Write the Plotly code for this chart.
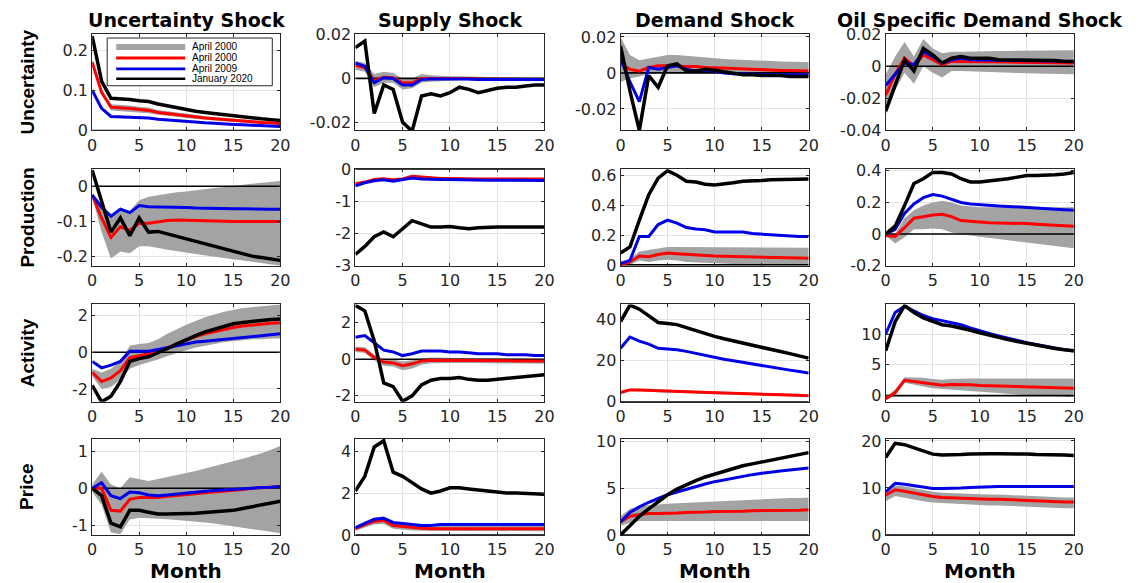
import plotly.graph_objects as go

# ---------------- data ----------------
months = list(range(21))

shock_titles = ["Uncertainty Shock", "Supply Shock", "Demand Shock", "Oil Specific Demand Shock"]
var_labels = ["Uncertainty", "Production", "Activity", "Price"]
legend_labels = ["April 2000", "April 2000", "April 2009", "January 2020"]
xtick_vals = [0, 5, 10, 15, 20]

# Row 1: Uncertainty
uu_blk = [0.235,0.123,0.080,0.079,0.077,0.074,0.072,0.066,0.061,0.056,0.052,0.048,0.045,0.042,0.039,0.036,0.034,0.031,0.029,0.027,0.025]
uu_red = [0.170,0.095,0.058,0.057,0.055,0.052,0.050,0.045,0.042,0.039,0.036,0.033,0.031,0.029,0.027,0.025,0.023,0.021,0.020,0.019,0.017]
uu_blu = [0.100,0.055,0.035,0.034,0.033,0.032,0.031,0.028,0.026,0.024,0.022,0.020,0.019,0.018,0.016,0.015,0.014,0.013,0.012,0.011,0.010]
uu_hi = [0.175,0.100,0.065,0.064,0.062,0.059,0.057,0.051,0.048,0.044,0.041,0.038,0.035,0.033,0.031,0.029,0.027,0.025,0.023,0.022,0.020]
uu_lo = [0.165,0.090,0.050,0.049,0.047,0.045,0.043,0.039,0.036,0.034,0.031,0.028,0.027,0.025,0.023,0.021,0.019,0.018,0.017,0.016,0.014]

su_blk = [0.014,0.017,-0.016,-0.003,-0.005,-0.020,-0.024,-0.008,-0.007,-0.008,-0.0065,-0.004,-0.005,-0.0065,-0.0055,-0.0045,-0.004,-0.004,-0.0035,-0.003,-0.003]
su_red = [0.006,0.005,-0.001,0.0005,0.0003,-0.002,-0.002,0.0,0.0,0.0,0.0,0.0002,0.0,-0.0003,-0.0003,-0.0004,-0.0004,-0.0004,-0.0005,-0.0005,-0.0005]
su_blu = [0.007,0.0055,-0.002,0.0003,0.0,-0.003,-0.003,-0.0005,-0.0003,-0.0003,-0.0002,0.0,-0.0003,-0.0005,-0.0005,-0.0005,-0.0005,-0.0005,-0.0005,-0.0005,-0.0005]
su_hi = [0.008,0.007,0.002,0.003,0.0025,0.0,0.0,0.002,0.0015,0.0012,0.001,0.001,0.0008,0.0006,0.0005,0.0005,0.0004,0.0004,0.0003,0.0003,0.0003]
su_lo = [0.004,0.003,-0.004,-0.002,-0.002,-0.005,-0.0045,-0.002,-0.0015,-0.0012,-0.001,-0.0008,-0.001,-0.0012,-0.0012,-0.0012,-0.0012,-0.0012,-0.0013,-0.0013,-0.0013]

du_blk = [0.015,-0.010,-0.032,-0.0015,-0.008,0.004,0.005,0.001,0.001,0.002,0.0015,0.0005,-0.0005,-0.001,-0.001,-0.0015,-0.0015,-0.0015,-0.002,-0.002,-0.002]
du_red = [0.005,0.002,0.001,0.003,0.004,0.004,0.004,0.0035,0.0035,0.003,0.003,0.0028,0.0025,0.0022,0.002,0.0018,0.0015,0.0014,0.0013,0.0012,0.001]
du_blu = [0.008,-0.005,-0.016,0.003,0.002,0.003,0.004,0.002,0.001,0.0015,0.001,0.0,-0.0005,-0.0005,-0.0008,-0.001,-0.001,-0.001,-0.001,-0.001,-0.001]
du_hi = [0.020,0.010,0.007,0.008,0.009,0.010,0.010,0.0095,0.009,0.0085,0.008,0.0078,0.0075,0.0072,0.007,0.0068,0.0066,0.0064,0.0062,0.006,0.006]
du_lo = [-0.005,-0.003,-0.002,-0.0005,0.0,0.0,0.0,0.0,0.0,-0.0002,-0.0003,-0.0004,-0.0005,-0.0006,-0.0007,-0.0008,-0.0008,-0.0009,-0.001,-0.001,-0.001]

ou_blk = [-0.028,-0.012,0.004,-0.003,0.011,0.007,0.002,0.005,0.006,0.005,0.005,0.005,0.004,0.004,0.004,0.004,0.004,0.0035,0.0035,0.003,0.003]
ou_red = [-0.018,-0.005,0.005,0.0,0.007,0.004,0.001,0.003,0.003,0.003,0.003,0.003,0.0028,0.0026,0.0025,0.0024,0.0023,0.0022,0.0021,0.002,0.002]
ou_blu = [-0.012,-0.005,0.002,0.001,0.009,0.006,0.002,0.004,0.005,0.004,0.004,0.004,0.0038,0.0036,0.0035,0.0034,0.0033,0.0032,0.0031,0.003,0.003]
ou_hi = [-0.005,0.006,0.015,0.006,0.017,0.011,0.008,0.009,0.009,0.009,0.009,0.0092,0.0094,0.0095,0.0096,0.0097,0.0098,0.0099,0.01,0.01,0.01]
ou_lo = [-0.030,-0.015,-0.004,-0.011,0.0,-0.004,-0.007,-0.003,-0.003,-0.003,-0.003,-0.0033,-0.0036,-0.004,-0.0042,-0.0044,-0.0046,-0.0048,-0.005,-0.005,-0.005]

# Row 2: Production
up_blk = [0.045,-0.04,-0.13,-0.09,-0.14,-0.09,-0.13,-0.128,-0.135,-0.143,-0.15,-0.158,-0.165,-0.17,-0.178,-0.186,-0.192,-0.198,-0.202,-0.206,-0.21]
up_red = [-0.025,-0.09,-0.145,-0.115,-0.125,-0.105,-0.105,-0.1,-0.097,-0.096,-0.097,-0.098,-0.099,-0.1,-0.1,-0.1,-0.1,-0.1,-0.1,-0.1,-0.1]
up_blu = [-0.025,-0.06,-0.085,-0.065,-0.075,-0.055,-0.058,-0.058,-0.059,-0.06,-0.06,-0.062,-0.063,-0.063,-0.064,-0.064,-0.064,-0.065,-0.065,-0.065,-0.065]
up_hi = [-0.02,-0.05,-0.09,-0.06,-0.07,-0.04,-0.03,-0.025,-0.02,-0.017,-0.015,-0.011,-0.008,-0.005,-0.002,0.0,0.004,0.007,0.01,0.012,0.015]
up_lo = [-0.03,-0.13,-0.205,-0.185,-0.19,-0.17,-0.17,-0.175,-0.18,-0.185,-0.19,-0.193,-0.196,-0.2,-0.203,-0.207,-0.21,-0.214,-0.218,-0.221,-0.225]

sp_blk = [-2.65,-2.4,-2.1,-1.95,-2.1,-1.85,-1.6,-1.7,-1.8,-1.8,-1.78,-1.82,-1.85,-1.82,-1.8,-1.8,-1.8,-1.8,-1.8,-1.8,-1.8]
sp_red = [-0.45,-0.4,-0.32,-0.3,-0.33,-0.3,-0.22,-0.25,-0.28,-0.29,-0.29,-0.3,-0.3,-0.3,-0.3,-0.3,-0.3,-0.3,-0.3,-0.3,-0.3]
sp_blu = [-0.52,-0.42,-0.36,-0.33,-0.37,-0.33,-0.27,-0.3,-0.32,-0.32,-0.32,-0.33,-0.34,-0.34,-0.34,-0.34,-0.34,-0.35,-0.35,-0.35,-0.35]
sp_hi = [-0.42,-0.37,-0.29,-0.27,-0.3,-0.27,-0.19,-0.22,-0.25,-0.26,-0.26,-0.27,-0.27,-0.27,-0.27,-0.27,-0.27,-0.27,-0.27,-0.27,-0.27]
sp_lo = [-0.5,-0.45,-0.37,-0.35,-0.38,-0.35,-0.27,-0.3,-0.33,-0.34,-0.34,-0.35,-0.35,-0.35,-0.35,-0.35,-0.35,-0.35,-0.35,-0.35,-0.35]

dp_blk = [0.08,0.12,0.3,0.47,0.58,0.63,0.6,0.56,0.555,0.54,0.535,0.54,0.55,0.56,0.56,0.565,0.57,0.57,0.57,0.57,0.575]
dp_red = [0.0,0.02,0.06,0.055,0.07,0.08,0.075,0.07,0.065,0.06,0.06,0.058,0.056,0.055,0.054,0.053,0.052,0.05,0.048,0.046,0.045]
dp_blu = [0.01,0.03,0.19,0.19,0.27,0.30,0.28,0.25,0.24,0.235,0.22,0.22,0.22,0.22,0.21,0.205,0.2,0.195,0.19,0.19,0.19]
dp_hi = [0.01,0.04,0.09,0.1,0.11,0.12,0.12,0.12,0.115,0.115,0.115,0.115,0.115,0.115,0.115,0.115,0.115,0.115,0.115,0.115,0.115]
dp_lo = [0.0,0.0,0.03,0.02,0.03,0.035,0.03,0.02,0.015,0.012,0.01,0.008,0.006,0.005,0.004,0.003,0.002,0.001,0.0,0.0,0.0]

op_blk = [0.0,0.05,0.18,0.32,0.35,0.39,0.39,0.38,0.35,0.33,0.33,0.335,0.34,0.35,0.36,0.37,0.37,0.37,0.375,0.38,0.39]
op_red = [-0.01,-0.015,0.04,0.1,0.11,0.12,0.125,0.11,0.085,0.08,0.075,0.072,0.07,0.07,0.07,0.066,0.062,0.058,0.055,0.052,0.05]
op_blu = [0.0,0.03,0.13,0.19,0.23,0.25,0.24,0.22,0.2,0.19,0.185,0.18,0.178,0.175,0.172,0.17,0.165,0.16,0.157,0.153,0.15]
op_hi = [0.0,0.0,0.1,0.15,0.18,0.2,0.21,0.2,0.18,0.175,0.17,0.17,0.17,0.17,0.17,0.17,0.17,0.17,0.17,0.17,0.17]
op_lo = [-0.01,-0.06,-0.02,0.03,0.03,0.035,0.03,0.01,0.0,-0.01,-0.02,-0.027,-0.034,-0.041,-0.048,-0.055,-0.062,-0.069,-0.076,-0.083,-0.09]

# Row 3: Activity
ua_blk = [-1.8,-2.7,-2.4,-1.6,-0.5,-0.35,-0.25,-0.05,0.2,0.45,0.7,0.9,1.1,1.25,1.4,1.55,1.62,1.68,1.74,1.78,1.8]
ua_red = [-1.1,-1.6,-1.4,-1.0,-0.3,-0.2,-0.1,0.05,0.25,0.45,0.65,0.85,1.0,1.12,1.24,1.34,1.42,1.48,1.53,1.57,1.6]
ua_blu = [-0.5,-0.85,-0.7,-0.5,0.05,0.05,0.05,0.15,0.25,0.35,0.45,0.55,0.6,0.65,0.7,0.75,0.8,0.85,0.9,0.95,1.0]
ua_hi = [-0.9,-1.1,-0.9,-0.5,0.35,0.45,0.5,0.7,1.0,1.25,1.5,1.7,1.9,2.05,2.2,2.3,2.4,2.45,2.5,2.55,2.6]
ua_lo = [-1.3,-2.0,-1.9,-1.5,-0.9,-0.7,-0.55,-0.4,-0.2,-0.05,0.1,0.25,0.35,0.45,0.55,0.6,0.65,0.7,0.7,0.75,0.75]

sa_blk = [2.95,2.65,1.0,-1.3,-1.5,-2.3,-2.0,-1.4,-1.15,-1.05,-1.05,-1.0,-1.1,-1.15,-1.15,-1.1,-1.05,-1.0,-0.95,-0.9,-0.85]
sa_red = [0.55,0.5,0.1,-0.15,-0.2,-0.35,-0.25,-0.1,-0.05,-0.05,-0.05,-0.05,-0.06,-0.07,-0.08,-0.08,-0.09,-0.09,-0.1,-0.1,-0.1]
sa_blu = [1.2,1.3,0.9,0.5,0.4,0.2,0.3,0.45,0.45,0.45,0.4,0.4,0.35,0.3,0.3,0.3,0.25,0.25,0.25,0.2,0.2]
sa_hi = [0.7,0.65,0.25,0.0,-0.02,-0.12,-0.05,0.05,0.1,0.1,0.1,0.08,0.07,0.06,0.05,0.05,0.04,0.04,0.03,0.03,0.03]
sa_lo = [0.4,0.35,-0.05,-0.35,-0.4,-0.6,-0.5,-0.3,-0.22,-0.2,-0.2,-0.2,-0.2,-0.21,-0.22,-0.22,-0.23,-0.23,-0.24,-0.24,-0.25]

da_blk = [39,47,45,42,38.5,38,37.5,36,34.5,33,31.8,30.6,29.5,28.4,27.4,26.4,25.4,24.4,23.4,22.4,21.2]
da_red = [4.5,5.8,5.8,5.6,5.3,5.1,5.0,4.9,4.7,4.6,4.4,4.3,4.1,4.0,3.8,3.7,3.5,3.4,3.3,3.1,3.0]
da_blu = [26,31.5,29.5,28,26,25.8,25.3,24.5,23.5,22.5,21.5,20.7,19.9,19.1,18.3,17.5,16.8,16.1,15.4,14.7,14]
da_hi = [5.1,6.4,6.4,6.2,5.9,5.7,5.6,5.5,5.3,5.2,5.0,4.9,4.7,4.6,4.4,4.3,4.1,4.0,3.9,3.7,3.6]
da_lo = [3.9,5.2,5.2,5.0,4.7,4.5,4.4,4.3,4.1,4.0,3.8,3.7,3.5,3.4,3.2,3.1,2.9,2.8,2.7,2.5,2.4]

oa_blk = [7.3,12.0,14.6,13.5,12.6,12.0,11.5,11.3,11.0,10.6,10.2,9.8,9.45,9.1,8.8,8.5,8.2,7.9,7.65,7.45,7.3]
oa_red = [-0.5,0.5,2.5,2.3,2.2,1.9,1.7,1.8,1.8,1.75,1.65,1.6,1.55,1.5,1.45,1.4,1.35,1.3,1.25,1.2,1.2]
oa_blu = [10.0,13.5,14.5,13.8,13.0,12.5,12.2,11.8,11.5,11.0,10.5,10.1,9.7,9.3,8.9,8.6,8.3,8.0,7.7,7.45,7.25]
oa_hi = [-0.3,1.0,3.0,3.0,2.9,2.7,2.6,2.7,2.8,2.8,2.8,2.8,2.8,2.8,2.8,2.8,2.8,2.8,2.8,2.8,2.8]
oa_lo = [-0.7,0.0,2.1,1.8,1.5,1.2,1.0,0.9,0.8,0.7,0.6,0.5,0.4,0.3,0.2,0.1,0.0,-0.05,-0.1,-0.15,-0.2]

# Row 4: Price
ur_blk = [0.0,-0.2,-0.95,-1.05,-0.6,-0.6,-0.65,-0.7,-0.7,-0.7,-0.7,-0.68,-0.66,-0.64,-0.62,-0.6,-0.55,-0.5,-0.45,-0.4,-0.35]
ur_red = [0.0,0.0,-0.6,-0.62,-0.3,-0.25,-0.25,-0.25,-0.22,-0.2,-0.18,-0.15,-0.12,-0.1,-0.08,-0.05,-0.03,0.0,0.02,0.04,0.05]
ur_blu = [0.0,0.15,-0.2,-0.28,-0.1,-0.12,-0.18,-0.2,-0.18,-0.15,-0.12,-0.1,-0.08,-0.06,-0.04,-0.02,0.0,0.01,0.02,0.03,0.05]
ur_hi = [0.1,0.45,0.1,0.0,0.3,0.25,0.2,0.25,0.3,0.35,0.4,0.47,0.54,0.6,0.67,0.74,0.8,0.88,0.95,1.05,1.15]
ur_lo = [-0.1,-0.45,-1.2,-1.25,-0.85,-0.8,-0.8,-0.82,-0.84,-0.86,-0.88,-0.9,-0.93,-0.96,-1.0,-1.03,-1.06,-1.1,-1.14,-1.18,-1.22]

sr_blk = [2.1,2.8,4.2,4.5,3.0,2.8,2.5,2.2,2.0,2.1,2.25,2.25,2.2,2.15,2.1,2.05,2.0,2.0,1.98,1.96,1.95]
sr_red = [0.3,0.5,0.65,0.7,0.45,0.4,0.35,0.32,0.3,0.3,0.3,0.3,0.3,0.3,0.3,0.3,0.3,0.3,0.3,0.3,0.3]
sr_blu = [0.35,0.55,0.75,0.8,0.6,0.55,0.5,0.45,0.45,0.5,0.5,0.5,0.5,0.5,0.5,0.5,0.5,0.5,0.5,0.5,0.5]
sr_hi = [0.42,0.65,0.82,0.88,0.62,0.56,0.5,0.46,0.44,0.44,0.44,0.44,0.44,0.44,0.44,0.44,0.44,0.44,0.44,0.44,0.44]
sr_lo = [0.2,0.36,0.5,0.52,0.3,0.26,0.22,0.2,0.18,0.18,0.18,0.18,0.18,0.18,0.18,0.18,0.18,0.18,0.18,0.18,0.18]

dr_blk = [0.0,1.0,2.0,2.8,3.6,4.3,4.9,5.4,5.8,6.2,6.5,6.8,7.1,7.4,7.6,7.8,8.0,8.2,8.4,8.6,8.8]
dr_red = [1.4,2.0,2.2,2.3,2.3,2.3,2.35,2.4,2.4,2.45,2.5,2.5,2.55,2.55,2.6,2.6,2.6,2.65,2.65,2.65,2.7]
dr_blu = [1.4,2.4,3.0,3.5,3.9,4.3,4.6,4.9,5.2,5.45,5.7,5.9,6.1,6.3,6.45,6.6,6.75,6.85,6.95,7.05,7.15]
dr_hi = [2.0,2.8,3.1,3.2,3.3,3.35,3.4,3.45,3.5,3.55,3.6,3.65,3.7,3.75,3.8,3.85,3.9,3.9,3.95,3.95,4.0]
dr_lo = [1.0,1.3,1.5,1.5,1.5,1.5,1.5,1.5,1.5,1.5,1.5,1.5,1.5,1.5,1.5,1.5,1.5,1.5,1.5,1.5,1.5]

or_blk = [16.5,19.5,19.2,18.5,17.8,17.2,17.0,17.0,17.1,17.2,17.3,17.3,17.3,17.3,17.2,17.2,17.1,17.1,17.0,17.0,16.9]
or_red = [8.5,9.6,9.3,8.9,8.5,8.2,8.0,7.9,7.8,7.7,7.7,7.6,7.6,7.5,7.5,7.4,7.3,7.2,7.1,7.0,7.0]
or_blu = [9.2,11.0,10.8,10.5,10.1,9.9,9.9,9.9,10.0,10.1,10.2,10.3,10.3,10.3,10.3,10.3,10.3,10.3,10.3,10.3,10.3]
or_hi = [9.5,10.6,10.3,9.9,9.5,9.2,9.0,8.9,8.8,8.7,8.7,8.6,8.6,8.5,8.5,8.4,8.3,8.2,8.1,8.0,8.0]
or_lo = [7.2,8.3,8.0,7.6,7.2,6.9,6.7,6.6,6.5,6.4,6.4,6.3,6.3,6.2,6.2,6.1,6.0,5.9,5.8,5.7,5.7]

# y ranges and ticks per panel (row-major)
y_ranges = [
    [0, 0.24], [-0.0237, 0.0202], [-0.032, 0.0216], [-0.04, 0.02],
    [-0.225, 0.048], [-3, 0], [-0.005, 0.64], [-0.2, 0.41],
    [-2.7, 2.6], [-2.33, 3.0], [0, 47.3], [-1, 14.8],
    [-1.27, 1.35], [0, 4.6], [0, 10.3], [0, 20.5],
]
y_ticks = [
    [0, 0.1, 0.2], [-0.02, 0, 0.02], [-0.02, 0, 0.02], [-0.04, -0.02, 0, 0.02],
    [-0.2, -0.1, 0], [-3, -2, -1, 0], [0, 0.2, 0.4, 0.6], [-0.2, 0, 0.2, 0.4],
    [-2, 0, 2], [-2, 0, 2], [0, 20, 40], [0, 5, 10],
    [-1, 0, 1], [0, 2, 4], [0, 5, 10], [0, 10, 20],
]

panels = [
    (uu_lo, uu_hi, uu_red, uu_blu, uu_blk), (su_lo, su_hi, su_red, su_blu, su_blk),
    (du_lo, du_hi, du_red, du_blu, du_blk), (ou_lo, ou_hi, ou_red, ou_blu, ou_blk),
    (up_lo, up_hi, up_red, up_blu, up_blk), (sp_lo, sp_hi, sp_red, sp_blu, sp_blk),
    (dp_lo, dp_hi, dp_red, dp_blu, dp_blk), (op_lo, op_hi, op_red, op_blu, op_blk),
    (ua_lo, ua_hi, ua_red, ua_blu, ua_blk), (sa_lo, sa_hi, sa_red, sa_blu, sa_blk),
    (da_lo, da_hi, da_red, da_blu, da_blk), (oa_lo, oa_hi, oa_red, oa_blu, oa_blk),
    (ur_lo, ur_hi, ur_red, ur_blu, ur_blk), (sr_lo, sr_hi, sr_red, sr_blu, sr_blk),
    (dr_lo, dr_hi, dr_red, dr_blu, dr_blk), (or_lo, or_hi, or_red, or_blu, or_blk),
]

# ---------------- layout geometry ----------------
# Target positions are given in picture pixels; the captured page shows the figure
# offset by 8px and slightly scaled, so positions are mapped back accordingly.
W, H = 1145, 583
OFF = 8
SX, SY = 1145 / 1161, 583 / 599
col_px = [(95, 283), (358, 547), (623, 811), (888, 1076)]
row_px = [(33, 130), (169, 266), (305, 403), (440, 537)]

GRAY = "#a3a3a3"
RED = "#ff0000"
BLUE = "#0000e6"
BLACK = "#000000"
AX = "#262626"


def px_x(p):
    return (p / SX - OFF) / W


def px_y(p):
    return 1 - (p / SY - OFF) / H


def fmt(v):
    return f"{v:g}"


fig = go.Figure()
layout = {}

for r in range(4):
    for c in range(4):
        n = r * 4 + c + 1
        xa = "x" if n == 1 else f"x{n}"
        ya = "y" if n == 1 else f"y{n}"
        lo, hi, red, blu, blk = panels[n - 1]
        fig.add_trace(go.Scatter(
            x=months + months[::-1], y=hi + lo[::-1], fill="toself",
            fillcolor=GRAY, line=dict(width=0, color=GRAY), mode="lines",
            xaxis=xa, yaxis=ya, showlegend=False, hoverinfo="skip"))
        fig.add_trace(go.Scatter(
            x=[months[0], months[-1]], y=[0, 0], mode="lines",
            line=dict(color=BLACK, width=1.6), xaxis=xa, yaxis=ya,
            showlegend=False, hoverinfo="skip"))
        for ys, col, w in ((red, RED, 3.0), (blu, BLUE, 3.0), (blk, BLACK, 3.5)):
            fig.add_trace(go.Scatter(
                x=months, y=ys, mode="lines", line=dict(color=col, width=w),
                xaxis=xa, yaxis=ya, showlegend=False))
        x0, x1 = col_px[c]
        y0, y1 = row_px[r]
        common = dict(showline=True, linecolor=AX, linewidth=1, mirror="ticks",
                      ticks="inside", ticklen=3, tickcolor=AX,
                      showgrid=True, gridcolor="#e3e3e3", gridwidth=1,
                      zeroline=False, tickfont=dict(family="DejaVu Sans", size=16, color=AX))
        layout["xaxis" if n == 1 else f"xaxis{n}"] = dict(
            domain=[px_x(x0), px_x(x1)], anchor=ya, range=[0, 20],
            tickvals=xtick_vals, ticktext=[fmt(v) for v in xtick_vals], **common)
        layout["yaxis" if n == 1 else f"yaxis{n}"] = dict(
            domain=[px_y(y1), px_y(y0)], anchor=xa, range=y_ranges[n - 1],
            tickvals=y_ticks[n - 1], ticktext=[fmt(v) for v in y_ticks[n - 1]], **common)

annotations = []
for c, t in enumerate(shock_titles):
    cx = (col_px[c][0] + col_px[c][1]) / 2
    annotations.append(dict(text=f"<b>{t}</b>", x=px_x(cx), y=px_y(19), xref="paper", yref="paper",
                            xanchor="center", yanchor="middle", showarrow=False,
                            font=dict(family="DejaVu Sans", size=19, color=BLACK)))
    annotations.append(dict(text="<b>Month</b>", x=px_x(cx), y=px_y(573), xref="paper", yref="paper",
                            xanchor="center", yanchor="middle", showarrow=False,
                            font=dict(family="DejaVu Sans", size=20, color=BLACK)))
for r, t in enumerate(var_labels):
    cy = (row_px[r][0] + row_px[r][1]) / 2
    annotations.append(dict(text=f"<b>{t}</b>", x=px_x(30), y=px_y(cy), xref="paper", yref="paper",
                            xanchor="center", yanchor="middle", showarrow=False, textangle=-90,
                            font=dict(family="Liberation Sans", size=19, color=BLACK)))

# manual legend inside first panel
shapes = [dict(type="rect", xref="paper", yref="paper",
               x0=px_x(110), x1=px_x(275), y0=px_y(85), y1=px_y(37),
               line=dict(color=AX, width=1), fillcolor="white", layer="above")]
leg_styles = [(GRAY, 6), (RED, 3), (BLUE, 2.6), (BLACK, 2.6)]
leg_rows = [46, 57, 68, 78]
for (colr, w), yy, lab in zip(leg_styles, leg_rows, legend_labels):
    shapes.append(dict(type="line", xref="paper", yref="paper",
                       x0=px_x(119), x1=px_x(188), y0=px_y(yy), y1=px_y(yy),
                       line=dict(color=colr, width=w), layer="above"))
    annotations.append(dict(text=lab, x=px_x(193), y=px_y(yy), xref="paper", yref="paper",
                            xanchor="left", yanchor="middle", showarrow=False,
                            font=dict(family="Liberation Sans", size=10, color=BLACK)))

fig.update_layout(
    width=W, height=H, margin=dict(l=0, r=0, t=0, b=0),
    paper_bgcolor="white", plot_bgcolor="white",
    annotations=annotations, shapes=shapes, showlegend=False, **layout)

fig.write_html("out.html")
